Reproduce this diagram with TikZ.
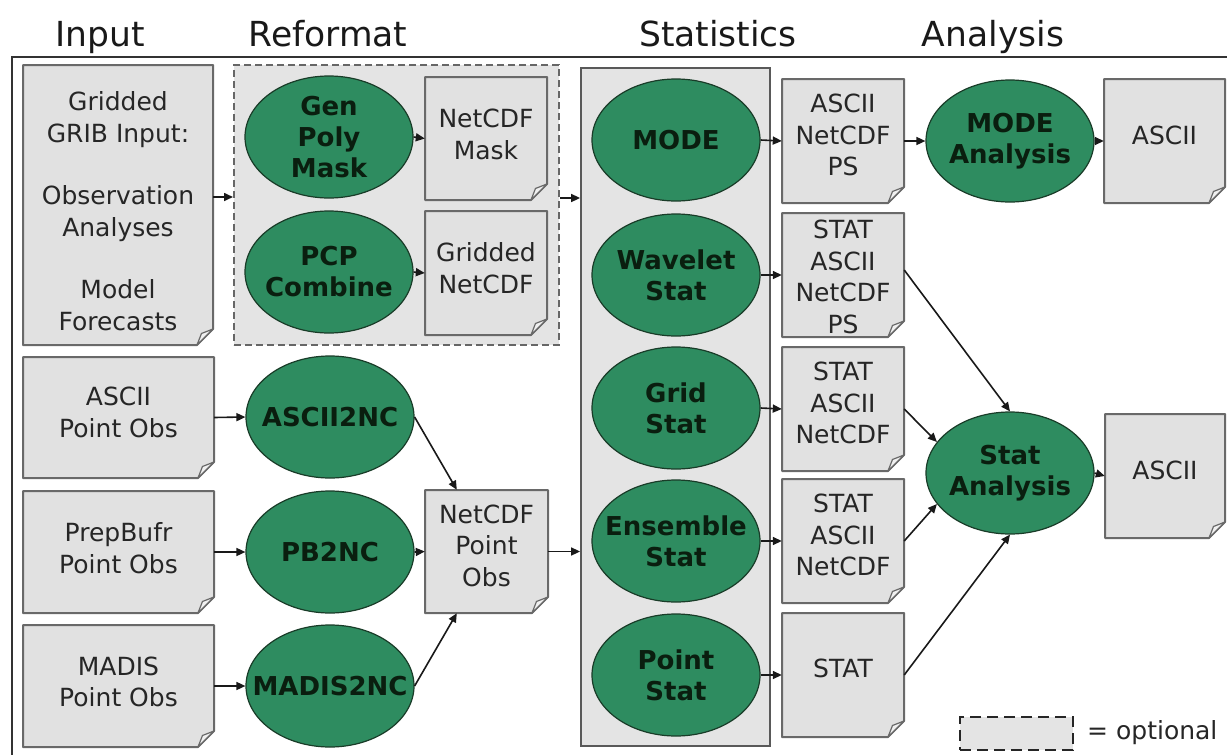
\documentclass[tikz,border=0pt]{standalone}
\usepackage{fontspec}
\setmainfont{DejaVu Sans}
\usetikzlibrary{shapes.geometric,arrows.meta,calc}
\definecolor{docfill}{RGB}{225,225,225}
\definecolor{docline}{RGB}{105,105,105}
\definecolor{procfill}{RGB}{46,140,96}
\definecolor{procline}{RGB}{25,60,40}
\definecolor{boxfill}{RGB}{228,228,228}
\definecolor{flapfill}{RGB}{240,240,240}
\definecolor{proctext}{RGB}{10,30,15}
\newcommand\mydocfold{16}
% #1 text shift, #2 name, #3 x1, #4 y1, #5 x2, #6 y2, #7 text
\newcommand\mydoc[7][5]{%
  \path[docshape] (#3,#4) -- (#5,#4) -- (#5,#6-\mydocfold) -- (#5-\mydocfold,#6) -- (#3,#6) -- cycle;
  \path[docflap] (#5-\mydocfold,#6) -- (#5-0.72*\mydocfold,#6-0.72*\mydocfold) -- (#5,#6-\mydocfold) -- cycle;
  \node[docbody, minimum width={#5-#3}, minimum height={#6-#4}] (#2) at ({(#3+#5)/2},{(#4+#6)/2}) {};
  \node[doctext] (#2-t) at ([yshift=#1pt]#2.center) {#7};
}
\tikzset{
  docshape/.style={fill=docfill, draw=docline, line width=2pt, line join=round},
  docflap/.style={fill=flapfill, draw=docline, line width=1.2pt, line join=round},
  docbody/.style={rectangle, draw=none, fill=none, inner sep=0pt},
  doctext/.style={align=center, font=\fontsize{25}{31.5}\selectfont, text=black!85, inner sep=0pt},
  proc/.style={ellipse, fill=procfill, draw=procline, line width=1.2pt, minimum width=168pt, minimum height=122pt, inner xsep=-45pt, inner ysep=-45pt, align=center, font=\fontsize{26}{31}\selectfont\bfseries, text=proctext},
  arr/.style={line width=1.6pt, draw=black!90, -{Triangle[length=9pt,width=8pt]}},
  head/.style={font=\fontsize{34.5}{40}\selectfont, text=black!90, anchor=base, inner sep=0pt},
  statbox/.style={rectangle, fill=boxfill, draw=black!65, line width=1.8pt, inner sep=0pt},
  reformbox/.style={rectangle, fill=boxfill, draw=black!60, line width=2pt, dash pattern=on 7pt off 4pt, inner sep=0pt},
  legbox/.style={rectangle, fill=boxfill, draw=black!85, line width=2.6pt, dash pattern=on 11pt off 6pt, inner sep=0pt},
}
\begin{document}
\begin{tikzpicture}[x=1pt,y=-1pt]
\useasboundingbox (0,0) rectangle (1227,755);
\fill[white] (0,0) rectangle (1227,755);

% headers
\node[head] (hIn) at (100,46) {Input};
\node[head] (hRe) at (328,46) {Reformat};
\node[head] (hSt) at (718,46) {Statistics};
\node[head] (hAn) at (993,46) {Analysis};

% outer frame
\draw[line width=2.5pt, draw=black!80] (12,790) -- (12,57) -- (1260,57);

% group boxes
\node[reformbox, minimum width=325pt, minimum height=280pt] (reform) at (396.5,205) {};
\node[statbox, minimum width=189pt, minimum height=678pt] (stats) at (675.5,407) {};

% input documents
\mydoc[-6]{gridin}{23}{65}{213}{345}{Gridded\\GRIB Input:\\[31pt]Observation\\Analyses\\[31pt]Model\\Forecasts}
\mydoc[5]{ascii}{23}{357}{214}{478}{ASCII\\Point Obs}
\mydoc[4]{prep}{23}{491}{214}{613}{PrepBufr\\Point Obs}
\mydoc[4]{madis}{23}{625}{214}{747}{MADIS\\Point Obs}

% reformat
\node[proc] (gpm) at (329,137) {Gen\\Poly\\Mask};
\node[proc] (pcp) at (329,272) {PCP\\Combine};
\mydoc[4]{nmask}{425}{77}{547}{200}{NetCDF\\Mask}
\mydoc[5]{gnc}{425}{211}{547}{335}{Gridded\\NetCDF}
\node[proc] (a2n) at (330,417) {ASCII2NC};
\node[proc] (pb2nc) at (330,552) {PB2NC};
\node[proc] (m2nc) at (330,686) {MADIS2NC};
\mydoc[6]{npo}{425}{490}{548}{613}{NetCDF\\Point\\Obs}

% statistics
\node[proc] (mode) at (676,140) {MODE};
\node[proc] (wav) at (676,275) {Wavelet\\Stat};
\node[proc] (grid) at (676,408) {Grid\\Stat};
\node[proc] (ens) at (676,541) {Ensemble\\Stat};
\node[proc] (pnt) at (676,675) {Point\\Stat};
\mydoc[6]{o1}{782}{79}{904}{203}{ASCII\\NetCDF\\PS}
\mydoc[-2]{o2}{782}{213}{904}{337}{STAT\\ASCII\\NetCDF\\PS}
\mydoc[6]{o3}{782}{347}{904}{471}{STAT\\ASCII\\NetCDF}
\mydoc[6]{o4}{782}{479}{904}{603}{STAT\\ASCII\\NetCDF}
\mydoc[7]{o5}{782}{613}{904}{737}{STAT}

% analysis
\node[proc] (modeA) at (1010,141) {MODE\\Analysis};
\node[proc] (statA) at (1010,473) {Stat\\Analysis};
\mydoc[6]{asciiA}{1104}{79}{1225}{203}{ASCII}
\mydoc[6]{asciiS}{1105}{414}{1225}{538}{ASCII}

% connectors
\draw[arr] ([yshift=8pt]gridin.east) -- ([yshift=8pt]reform.west);
\draw[arr] ([yshift=7pt]reform.east) -- ([yshift=7pt]reform.east -| stats.west);
\draw[arr] (gpm.east) -- (nmask.west);
\draw[arr] (pcp.east) -- (gnc.west);
\draw[arr] (ascii.east) -- (a2n.west);
\draw[arr] (prep.east) -- (pb2nc.west);
\draw[arr] (madis.east) -- (m2nc.west);
\draw[arr] (a2n.east) -- ([xshift=32pt]npo.north west);
\draw[arr] (pb2nc.east) -- (npo.west);
\draw[arr] (m2nc.east) -- ([xshift=32pt]npo.south west);
\draw[arr] (npo.east) -- (npo.east -| stats.west);
\draw[arr] (mode.east) -- (o1.west);
\draw[arr] (wav.east) -- (o2.west);
\draw[arr] (grid.east) -- (o3.west);
\draw[arr] (ens.east) -- (o4.west);
\draw[arr] (pnt.east) -- (o5.west);
\draw[arr] (o1.east) -- (modeA.west);
\draw[arr] (modeA.east) -- (asciiA.west);
\draw[arr] ([yshift=5pt]o2.east) -- (statA.north);
\draw[arr] (o3.east) -- (statA.157);
\draw[arr] (o4.east) -- (statA.203);
\draw[arr] (o5.east) -- (statA.south);
\draw[arr] (statA.east) -- (asciiS.west);

% legend
\node[legbox, minimum width=113pt, minimum height=33pt] (leg) at (1016.5,733.5) {};
\node[anchor=base west, font=\fontsize{25}{30}\selectfont, inner sep=0pt, text=black!85] (legt) at (1087,739) {= optional};
\end{tikzpicture}
\end{document}
